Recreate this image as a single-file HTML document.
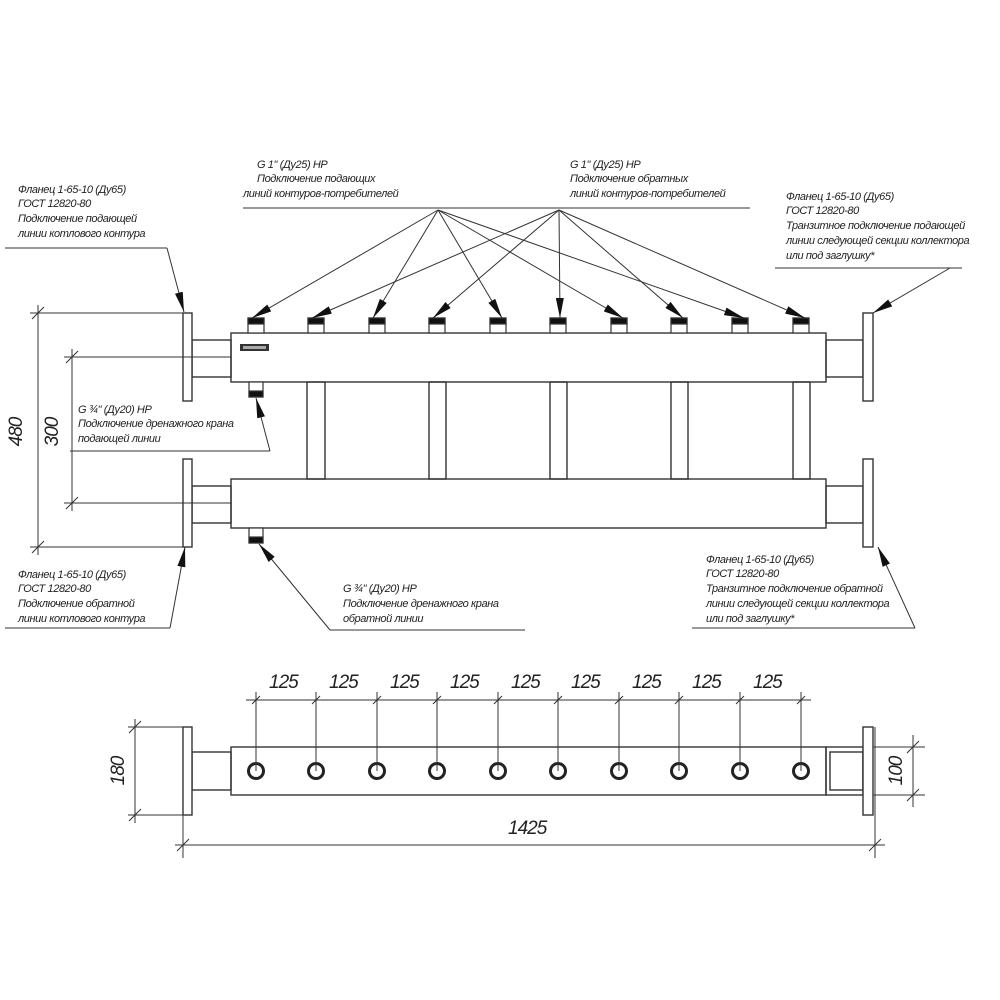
<!DOCTYPE html>
<html><head><meta charset="utf-8"><style>
html,body{margin:0;padding:0;background:#fff}
svg{display:block}
text{font-family:"Liberation Sans",sans-serif;font-style:italic;fill:#222}
.t{font-size:11px;letter-spacing:-0.4px}
.d{font-size:19px;letter-spacing:-1px}
</style></head><body>
<svg width="1000" height="1000" viewBox="0 0 1000 1000" xmlns="http://www.w3.org/2000/svg">
<defs>
<marker id="a" viewBox="0 0 20 8" refX="20" refY="4" markerWidth="20" markerHeight="8" markerUnits="userSpaceOnUse" orient="auto"><path d="M0,0 L20,4 L0,8 Z" fill="#111"/></marker>
</defs>
<g fill="none" stroke="#333" stroke-width="1.4">
<!-- upper pipe -->
<rect x="231" y="333" width="595" height="49" fill="#fff"/>
<rect x="192" y="340" width="39" height="37"/>
<rect x="183" y="313" width="9" height="88" fill="#fff"/>
<rect x="826" y="340" width="37" height="37"/>
<rect x="863" y="313" width="10" height="88" fill="#fff"/>
<!-- lower pipe -->
<rect x="231" y="479" width="595" height="49" fill="#fff"/>
<rect x="192" y="486" width="39" height="37"/>
<rect x="183" y="459" width="9" height="88" fill="#fff"/>
<rect x="826" y="486" width="37" height="37"/>
<rect x="863" y="459" width="10" height="88" fill="#fff"/>
<!-- connectors -->
<rect x="307" y="382" width="18" height="97"/>
<rect x="429" y="382" width="17" height="97"/>
<rect x="550" y="382" width="17" height="97"/>
<rect x="671" y="382" width="17" height="97"/>
<rect x="793" y="382" width="17" height="97"/>
</g>
<!-- nipples -->
<g stroke="#333" stroke-width="1.2">
<g fill="#fff">
<rect x="248" y="318" width="16" height="15"/><rect x="308" y="318" width="16" height="15"/><rect x="369" y="318" width="16" height="15"/><rect x="429" y="318" width="16" height="15"/><rect x="490" y="318" width="16" height="15"/><rect x="550" y="318" width="16" height="15"/><rect x="611" y="318" width="16" height="15"/><rect x="671" y="318" width="16" height="15"/><rect x="732" y="318" width="16" height="15"/><rect x="793" y="318" width="16" height="15"/>
<rect x="249" y="382" width="14" height="15"/><rect x="249" y="528" width="14" height="15"/>
</g>
<g fill="#111">
<rect x="248" y="318" width="16" height="6"/><rect x="308" y="318" width="16" height="6"/><rect x="369" y="318" width="16" height="6"/><rect x="429" y="318" width="16" height="6"/><rect x="490" y="318" width="16" height="6"/><rect x="550" y="318" width="16" height="6"/><rect x="611" y="318" width="16" height="6"/><rect x="671" y="318" width="16" height="6"/><rect x="732" y="318" width="16" height="6"/><rect x="793" y="318" width="16" height="6"/>
<rect x="249" y="391" width="14" height="6"/><rect x="249" y="537" width="14" height="6"/>
</g>
</g>
<rect x="240" y="344" width="29" height="7" fill="#333"/>
<rect x="243" y="346" width="23" height="3" fill="#aaa"/>
<!-- leaders top -->
<g stroke="#333" stroke-width="1" fill="none">
<line x1="243" y1="208" x2="750" y2="208"/>
<g marker-end="url(#a)">
<line x1="438" y1="210" x2="252" y2="318"/>
<line x1="438" y1="210" x2="373" y2="318"/>
<line x1="438" y1="210" x2="502" y2="318"/>
<line x1="438" y1="210" x2="623" y2="318"/>
<line x1="438" y1="210" x2="744" y2="318"/>
<line x1="559" y1="210" x2="312" y2="318"/>
<line x1="559" y1="210" x2="433" y2="318"/>
<line x1="559" y1="210" x2="560" y2="318"/>
<line x1="559" y1="210" x2="683" y2="318"/>
<line x1="559" y1="210" x2="805" y2="318"/>
<line x1="167" y1="248" x2="184" y2="312"/>
<line x1="950" y1="268" x2="873" y2="313"/>
<line x1="270" y1="451" x2="256" y2="398"/>
<line x1="170" y1="628" x2="185" y2="547"/>
<line x1="330" y1="630" x2="259" y2="544"/>
<line x1="915" y1="628" x2="878" y2="547"/>
</g>
<polyline points="5,248 167,248"/>
<polyline points="775,268 962,268"/>
<polyline points="70,451 270,451"/>
<polyline points="5,628 170,628"/>
<polyline points="330,630 525,630"/>
<polyline points="692,628 915,628"/>
<!-- dims left -->
<line x1="30" y1="313" x2="183" y2="313"/>
<line x1="30" y1="547" x2="183" y2="547"/>
<line x1="38" y1="305" x2="38" y2="555"/>
<line x1="64" y1="357" x2="231" y2="357"/>
<line x1="64" y1="503" x2="231" y2="503"/>
<line x1="72" y1="349" x2="72" y2="511"/>
<path d="M32,319 L44,307 M32,553 L44,541 M66,363 L78,351 M66,509 L78,497"/>
</g>
<text class="d" transform="translate(22,432) rotate(-90)" text-anchor="middle">480</text>
<text class="d" transform="translate(58,432) rotate(-90)" text-anchor="middle">300</text>
<!-- texts top -->
<text class="t" x="257" y="168">G 1" (Ду25) НР</text>
<text class="t" x="257" y="182">Подключение подающих</text>
<text class="t" x="243" y="197">линий контуров-потребителей</text>
<text class="t" x="570" y="168">G 1" (Ду25) НР</text>
<text class="t" x="570" y="182">Подключение обратных</text>
<text class="t" x="570" y="197">линий контуров-потребителей</text>
<text class="t" x="18" y="193">Фланец 1-65-10 (Ду65)</text>
<text class="t" x="18" y="207">ГОСТ 12820-80</text>
<text class="t" x="18" y="222">Подключение подающей</text>
<text class="t" x="18" y="237">линии котлового контура</text>
<text class="t" x="786" y="200">Фланец 1-65-10 (Ду65)</text>
<text class="t" x="786" y="214">ГОСТ 12820-80</text>
<text class="t" x="786" y="229">Транзитное подключение подающей</text>
<text class="t" x="786" y="244">линии следующей секции коллектора</text>
<text class="t" x="786" y="259">или под заглушку*</text>
<text class="t" x="78" y="413">G ¾" (Ду20) НР</text>
<text class="t" x="78" y="427">Подключение дренажного крана</text>
<text class="t" x="78" y="442">подающей линии</text>
<text class="t" x="18" y="578">Фланец 1-65-10 (Ду65)</text>
<text class="t" x="18" y="592">ГОСТ 12820-80</text>
<text class="t" x="18" y="607">Подключение обратной</text>
<text class="t" x="18" y="622">линии котлового контура</text>
<text class="t" x="343" y="592">G ¾" (Ду20) НР</text>
<text class="t" x="343" y="607">Подключение дренажного крана</text>
<text class="t" x="343" y="622">обратной линии</text>
<text class="t" x="706" y="563">Фланец 1-65-10 (Ду65)</text>
<text class="t" x="706" y="577">ГОСТ 12820-80</text>
<text class="t" x="706" y="592">Транзитное подключение обратной</text>
<text class="t" x="706" y="607">линии следующей секции коллектора</text>
<text class="t" x="706" y="622">или под заглушку*</text>
<!-- bottom view -->
<g fill="none" stroke="#333" stroke-width="1.4">
<rect x="231" y="747" width="595" height="48" fill="#fff"/>
<rect x="192" y="752" width="39" height="38"/>
<rect x="183" y="727" width="9" height="88" fill="#fff"/>
<rect x="826" y="747" width="37" height="48"/>
<rect x="830" y="752" width="33" height="38"/>
<rect x="863" y="727" width="10" height="88" fill="#fff"/>
</g>
<g fill="none" stroke="#222" stroke-width="3">
<circle cx="256" cy="771" r="7.5"/><circle cx="316" cy="771" r="7.5"/><circle cx="377" cy="771" r="7.5"/><circle cx="437" cy="771" r="7.5"/><circle cx="498" cy="771" r="7.5"/><circle cx="558" cy="771" r="7.5"/><circle cx="619" cy="771" r="7.5"/><circle cx="679" cy="771" r="7.5"/><circle cx="740" cy="771" r="7.5"/><circle cx="801" cy="771" r="7.5"/>
</g>
<g stroke="#333" stroke-width="1" fill="none">
<line x1="246" y1="700" x2="811" y2="700"/>
<path d="M256,692V771 M316,692V771 M377,692V771 M437,692V771 M498,692V771 M558,692V771 M619,692V771 M679,692V771 M740,692V771 M801,692V771"/>
<path d="M252,704l8,-8 M312,704l8,-8 M373,704l8,-8 M433,704l8,-8 M494,704l8,-8 M554,704l8,-8 M615,704l8,-8 M675,704l8,-8 M736,704l8,-8 M797,704l8,-8"/>
<line x1="128" y1="727" x2="183" y2="727"/>
<line x1="128" y1="815" x2="183" y2="815"/>
<line x1="135" y1="719" x2="135" y2="823"/>
<path d="M129,733l12,-12 M129,821l12,-12"/>
<line x1="873" y1="747" x2="925" y2="747"/>
<line x1="873" y1="795" x2="925" y2="795"/>
<line x1="913" y1="735" x2="913" y2="807"/>
<path d="M907,753l12,-12 M907,801l12,-12"/>
<line x1="175" y1="845" x2="885" y2="845"/>
<line x1="183" y1="815" x2="183" y2="858"/>
<line x1="875" y1="727" x2="875" y2="858"/>
<path d="M177,851l12,-12 M869,851l12,-12"/>
</g>
<g class="d">
<text x="269" y="688">125</text><text x="329" y="688">125</text><text x="390" y="688">125</text><text x="450" y="688">125</text><text x="511" y="688">125</text><text x="571" y="688">125</text><text x="632" y="688">125</text><text x="692" y="688">125</text><text x="753" y="688">125</text>
<text x="508" y="834">1425</text>
</g>
<text class="d" transform="translate(124,771) rotate(-90)" text-anchor="middle">180</text>
<text class="d" transform="translate(902,771) rotate(-90)" text-anchor="middle">100</text>
</svg>
</body></html>
